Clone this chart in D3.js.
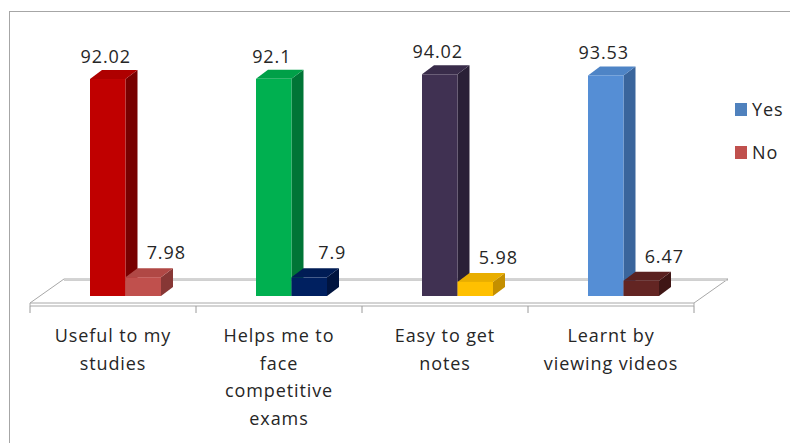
<!DOCTYPE html>
<html>
<head>
<meta charset="utf-8">
<script src="https://cdn.jsdelivr.net/npm/d3@7"></script>
<style>
  html, body { margin: 0; padding: 0; background: #fff; }
  svg { display: block; }
  text { font-family: "Open Sans", "DejaVu Sans", sans-serif; fill: #262626; }
</style>
</head>
<body>
<svg id="chart" width="790" height="443"></svg>
<script>
// ---- data ----
const categories = [
  "Useful to my\nstudies",
  "Helps me to\nface\ncompetitive\nexams",
  "Easy to get\nnotes",
  "Learnt by\nviewing videos"
];
const series = ["Yes", "No"];
const yesValues = [92.02, 92.1, 94.02, 93.53];
const noValues = [7.98, 7.9, 5.98, 6.47];
const legendColors = ["#4F81BD", "#C0504D"];
// per-point colours [front, top, side]
const yesColors = [
  ["#C00000", "#AE0000", "#780000"],
  ["#00B050", "#00A048", "#007536"],
  ["#403152", "#392C4A", "#2A2037"],
  ["#558ED5", "#4E84C6", "#3A659C"]
];
const noColors = [
  ["#C0504D", "#B04845", "#873735"],
  ["#002060", "#001C55", "#00143F"],
  ["#FFC000", "#E9AE00", "#C48F00"],
  ["#632523", "#5A2120", "#3F1615"]
];

// ---- layout ----
const svg = d3.select("#chart");
const floorFront = 303, floorBack = 279, floorDX = 34;
const barBase = 296;
const depthX = 12, depthY = -9;

const x = d3.scaleBand().domain(categories).range([30, 694]);
const inner = d3.scaleBand().domain(series).range([0, 71]);
const y = d3.scaleLinear().domain([0, 100]).range([barBase, barBase - 235.8]);

// outer border
svg.append("rect")
  .attr("x", 9.5).attr("y", 11.5).attr("width", 800).attr("height", 460)
  .attr("fill", "none").attr("stroke", "#a6a6a6").attr("stroke-width", 1);

// floor
const fl = x.range()[0], fr = x.range()[1];
const floorG = svg.append("g").attr("fill", "none").attr("stroke", "#a8a8a8").attr("stroke-width", 1);
floorG.append("path")
  .attr("d", `M${fl},${floorFront}L${fr},${floorFront}L${fr + floorDX},${floorBack}L${fl + floorDX},${floorBack}Z`)
  .attr("fill", "#fff");
floorG.append("path")
  .attr("d", `M${fl},${floorFront}L${fl},${floorFront + 3}L${fr},${floorFront + 3}L${fr},${floorFront}`);
floorG.append("line")
  .attr("x1", fl + floorDX).attr("x2", fr + floorDX)
  .attr("y1", floorBack + 1.5).attr("y2", floorBack + 1.5).attr("stroke", "#d0d0d0");

// ticks
const tickXs = categories.map(c => x(c)).concat([fr]);
svg.append("g").selectAll("line").data(tickXs).join("line")
  .attr("x1", d => d).attr("x2", d => d)
  .attr("y1", floorFront + 3).attr("y2", floorFront + 10)
  .attr("stroke", "#9a9a9a").attr("stroke-width", 1);

// bars
function drawBar(g, x0, w, v, cols) {
  const top = y(v), bot = y(0);
  g.append("path")
    .attr("d", `M${x0 + w},${top}L${x0 + w + depthX},${top + depthY}L${x0 + w + depthX},${bot + depthY}L${x0 + w},${bot}Z`)
    .attr("fill", cols[2]);
  g.append("path")
    .attr("d", `M${x0},${top}L${x0 + depthX},${top + depthY}L${x0 + w + depthX},${top + depthY}L${x0 + w},${top}Z`)
    .attr("fill", cols[1]);
  g.append("rect")
    .attr("x", x0).attr("y", top).attr("width", w).attr("height", bot - top)
    .attr("fill", cols[0]);
}
const barsG = svg.append("g");
categories.forEach((c, i) => {
  const cx = x(c) + x.bandwidth() / 2 - 23;
  drawBar(barsG, cx + inner("Yes"), inner.bandwidth(), yesValues[i], yesColors[i]);
  drawBar(barsG, cx + inner("No"), inner.bandwidth(), noValues[i], noColors[i]);
});

// value labels
const labG = svg.append("g").style("font-size", "18px").style("letter-spacing", "0.9px")
  .attr("text-anchor", "middle");
categories.forEach((c, i) => {
  const cx = x(c) + x.bandwidth() / 2 - 23;
  labG.append("text")
    .attr("x", cx + inner("Yes") + inner.bandwidth() / 2 - 2)
    .attr("y", y(yesValues[i]) - 16)
    .text(yesValues[i]);
  labG.append("text")
    .attr("x", cx + inner("No") + inner.bandwidth() / 2 + 23)
    .attr("y", y(noValues[i]) - 18)
    .text(noValues[i]);
});

// category labels
const catG = svg.append("g").style("font-size", "18px").style("letter-spacing", "0.9px")
  .attr("text-anchor", "middle");
categories.forEach(c => {
  const t = catG.append("text").attr("x", x(c) + x.bandwidth() / 2).attr("y", 342);
  c.split("\n").forEach((line, j) => {
    t.append("tspan").attr("x", x(c) + x.bandwidth() / 2).attr("y", 342 + j * 27.7).text(line);
  });
});

// legend
const legG = svg.append("g");
series.forEach((s, i) => {
  const yy = 103 + i * 43;
  legG.append("rect").attr("x", 735).attr("y", yy).attr("width", 12).attr("height", 13)
    .attr("fill", legendColors[i]);
  legG.append("text").attr("x", 752).attr("y", yy + 13)
    .style("font-size", "18px").style("letter-spacing", "0.9px").text(s);
});
</script>
</body>
</html>
